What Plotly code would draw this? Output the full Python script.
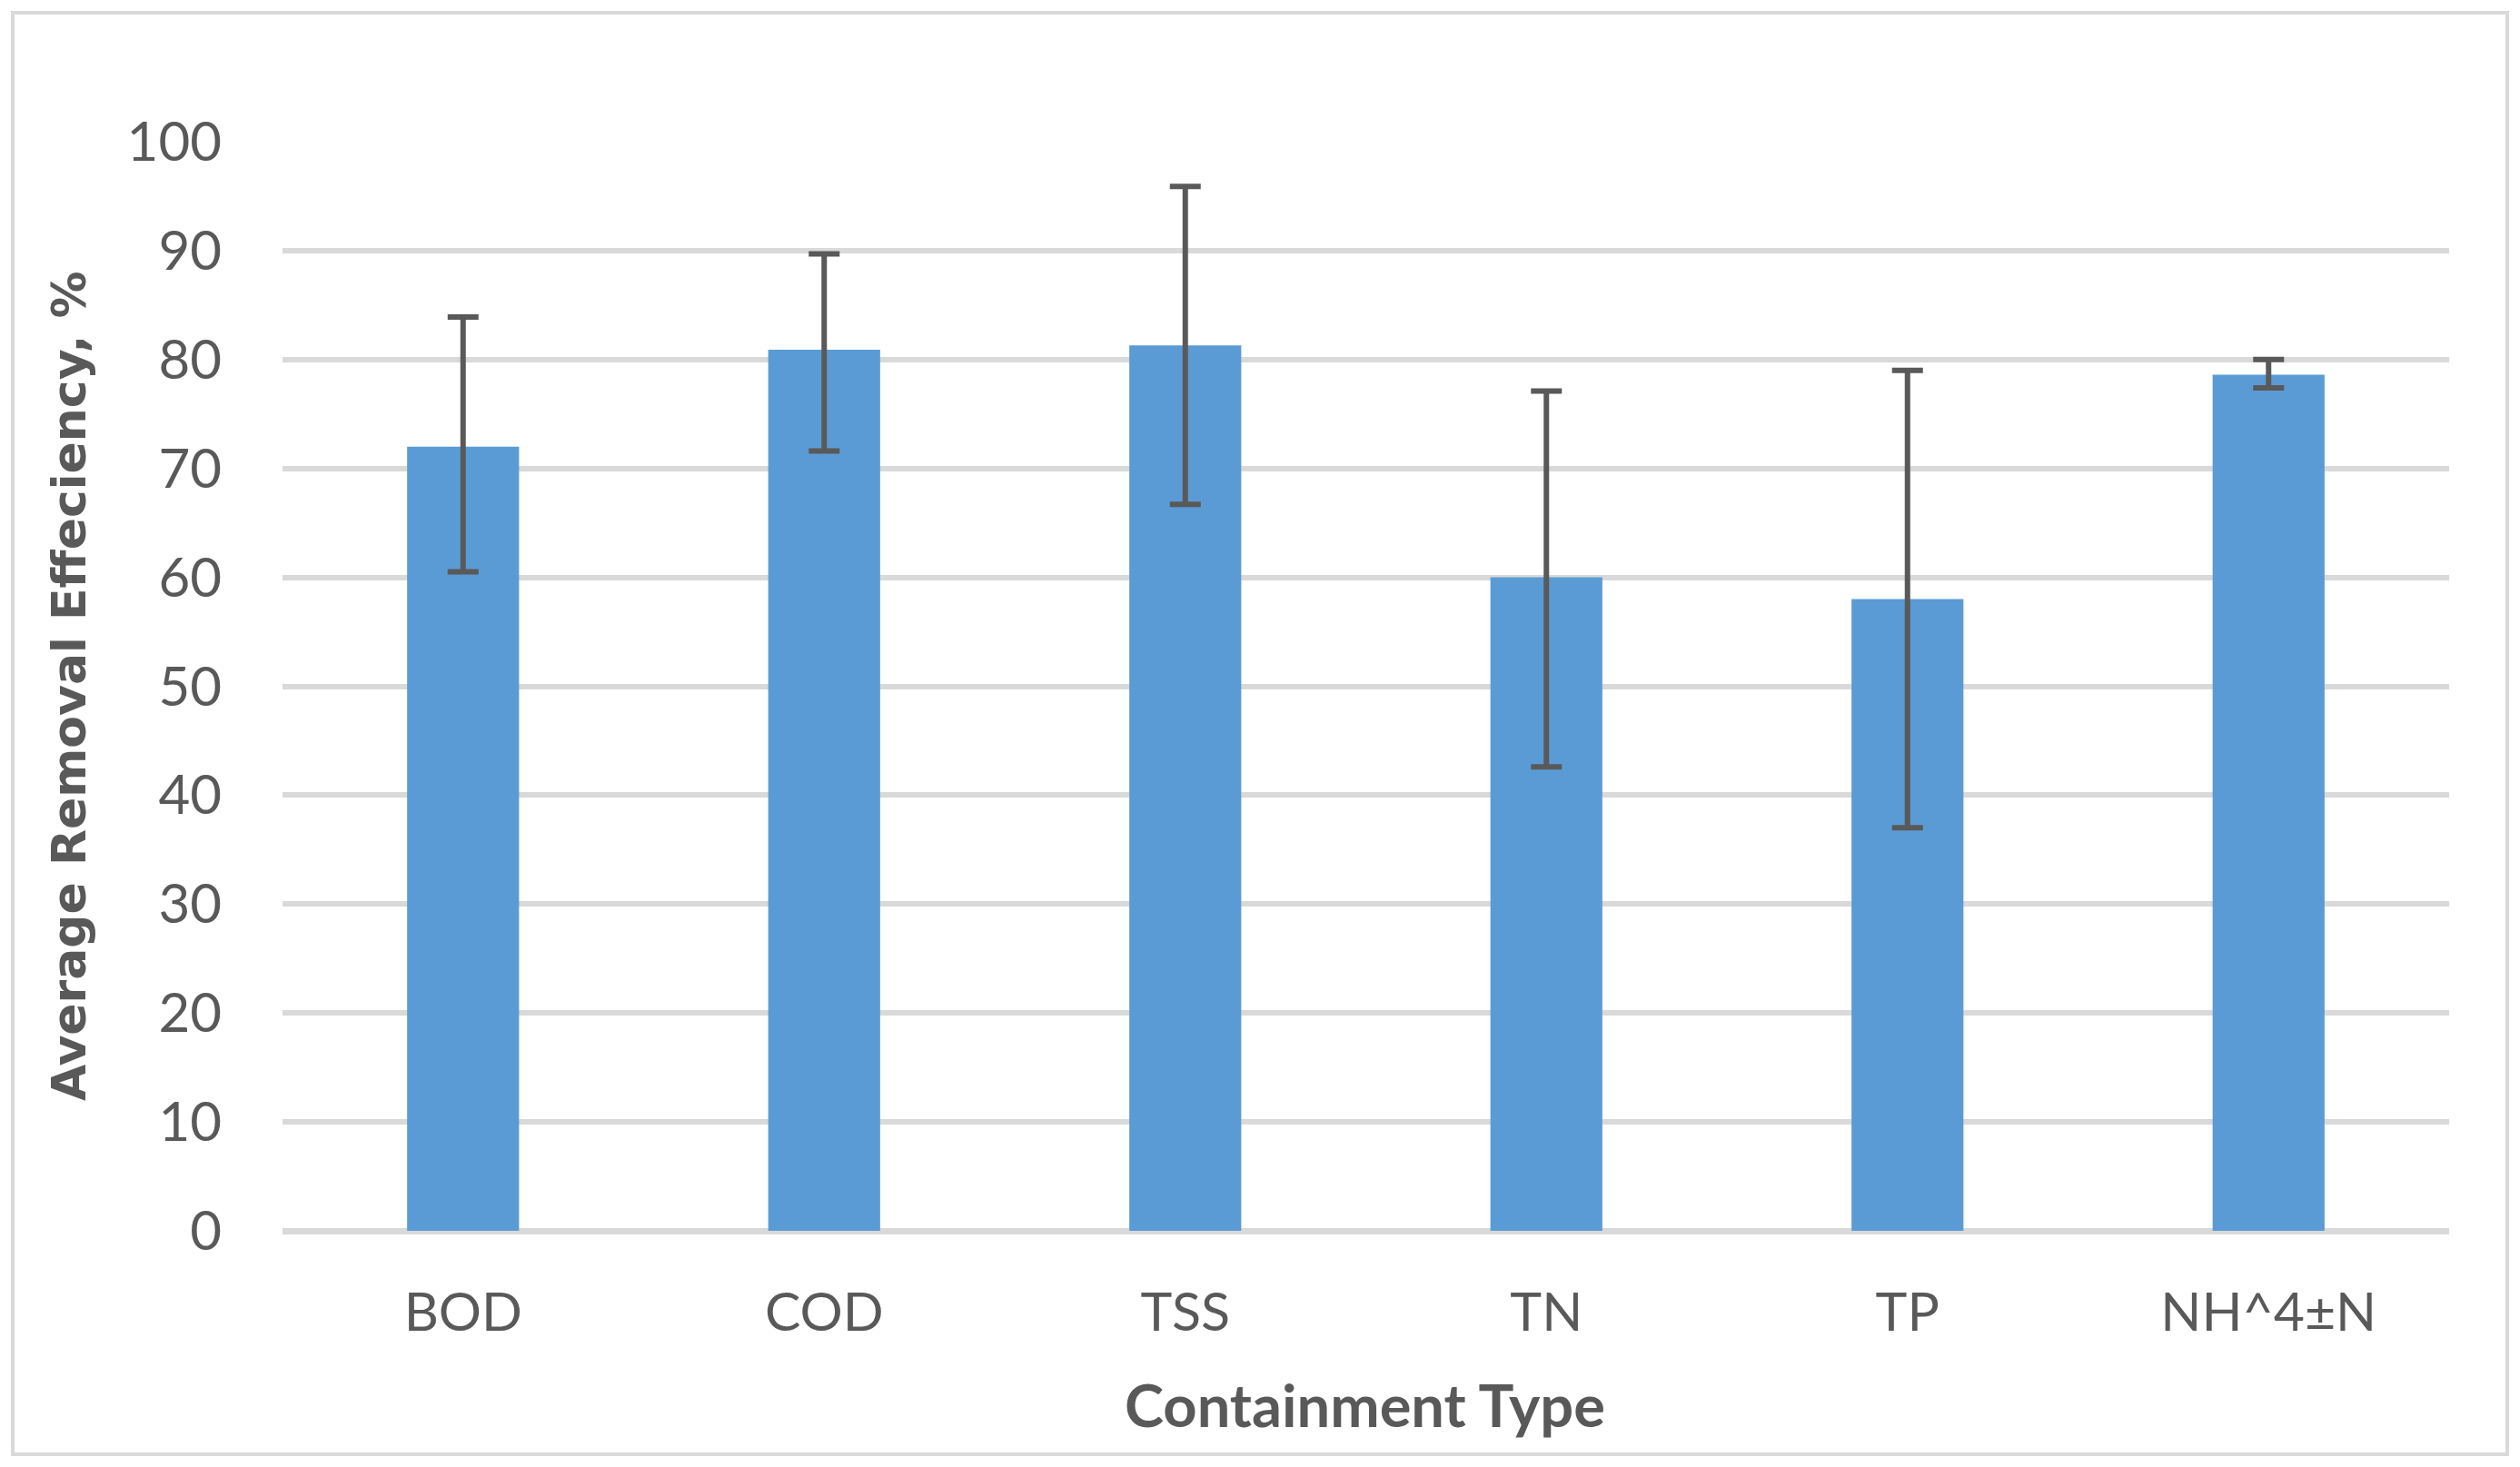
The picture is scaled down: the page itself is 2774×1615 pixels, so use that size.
import plotly.graph_objects as go

categories = ["BOD", "COD", "TSS", "TN", "TP", "NH^4±N"]
values = [72.0, 80.9, 81.3, 60.0, 58.0, 78.6]
err_plus = [11.9, 8.8, 14.6, 17.1, 21.0, 1.4]
err_minus = [11.5, 9.3, 14.6, 17.4, 21.0, 1.2]
y_ticks = [0, 10, 20, 30, 40, 50, 60, 70, 80, 90, 100]

OFF = 8  # default page body margin
W, H = 2774 - 2 * OFF, 1615 - 2 * OFF
PL, PR, PT, PB = 311 - OFF, 2696 - OFF, 156 - OFF, 1355 - OFF  # plot area
pw, ph = PR - PL, PB - PT


def px(x):
    return (x - OFF - PL) / pw


def py(y):
    return (PB - (y - OFF)) / ph


fig = go.Figure()
fig.add_trace(go.Bar(
    x=categories,
    y=values,
    width=0.31,
    marker=dict(color="#5B9BD5", line=dict(width=0)),
    error_y=dict(
        type="data",
        symmetric=False,
        array=err_plus,
        arrayminus=err_minus,
        color="#595959",
        thickness=6,
        width=17,
    ),
))

fig.update_layout(
    width=W,
    height=H,
    margin=dict(l=PL, r=W - PR, t=PT, b=H - PB, pad=0),
    paper_bgcolor="white",
    plot_bgcolor="white",
    showlegend=False,
    xaxis=dict(
        range=[-0.5, 5.5],
        showgrid=False,
        showline=False,
        ticks="",
        tickfont=dict(family="Lato", size=59, color="#595959"),
        ticklabelstandoff=50,
    ),
    yaxis=dict(
        range=[0, 100],
        tickvals=y_ticks,
        showgrid=True,
        gridcolor="#D9D9D9",
        gridwidth=6,
        zeroline=True,
        zerolinecolor="#D9D9D9",
        zerolinewidth=7,
        showline=False,
        ticks="",
        tickfont=dict(family="Lato", size=60, color="#595959"),
        ticklabelstandoff=66,
    ),
    shapes=[
        dict(
            type="rect", xref="paper", yref="paper",
            x0=px(14), x1=px(2760), y0=py(1601), y1=py(14),
            line=dict(color="#D9D9D9", width=4),
            fillcolor="rgba(0,0,0,0)",
            layer="below",
        )
    ],
    annotations=[
        dict(
            text="<b>Average Removal Effeciency, %</b>",
            xref="paper", yref="paper",
            x=px(76), y=py(755),
            xanchor="center", yanchor="middle",
            textangle=-90, showarrow=False,
            font=dict(family="DejaVu Sans", size=52, color="#595959"),
        ),
        dict(
            text="<b>Containment Type</b>",
            xref="paper", yref="paper",
            x=px(1502), y=py(1546),
            xanchor="center", yanchor="middle",
            showarrow=False,
            font=dict(family="Lato", size=65, color="#595959"),
        ),
    ],
)

fig.write_html("out.html")
